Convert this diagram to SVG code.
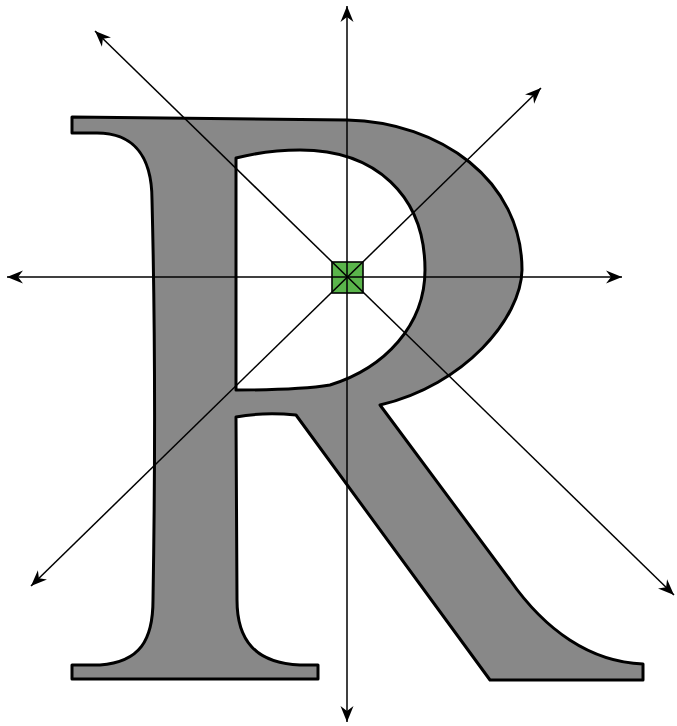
<svg xmlns="http://www.w3.org/2000/svg" width="677" height="726" viewBox="0 0 677 726">
  <style>
    .glyph { fill: #888888; stroke: #000000; stroke-width: 3; stroke-linejoin: round; fill-rule: evenodd; }
    .origin { fill: #5ab54b; stroke: #000000; stroke-width: 1.6; }
    .axis { fill: none; stroke: #000000; stroke-width: 1.5; marker-start: url(#arrow); marker-end: url(#arrow); }
  </style>
  <defs>
    <marker id="arrow" markerUnits="userSpaceOnUse" markerWidth="17" markerHeight="14" refX="16" refY="7" orient="auto-start-reverse" viewBox="0 0 17 14">
      <path d="M0,0.5 L16,7 L0,13.5 L5,7 Z" fill="#000000"/>
    </marker>
  </defs>
  <rect width="677" height="726" fill="#ffffff"/>
  <g id="letter-R">
    <path class="glyph" d="M72,117 L347,120 C440,122 522,180 522,270 C521,318 465,385 380,405 L510,580 C545,630 590,662 643,664 L643,680 L490,680 L296,415 C275,413 252,414 236,417 L237,600 C237,640 255,663 300,665 L318,665 L318,679 L72,679 L72,665 L100,665 C140,662 153,640 153,600 C155,480 155,320 152,200 C152,150 128,133 97,133 L72,133 Z M236,158 C260,152 280,150 300,150 C375,150 425,195 425,270 C425,325 385,368 330,385 C300,390 260,390 236,390 Z"/>
  </g>
  <g id="origin">
    <rect class="origin" x="332" y="262" width="31" height="31"/>
  </g>
  <g id="axes">
    <line class="axis" x1="7" y1="277" x2="622" y2="277"/>
    <line class="axis" x1="347" y1="6" x2="347" y2="722"/>
    <line class="axis" x1="95" y1="31" x2="674" y2="595"/>
    <line class="axis" x1="541" y1="88" x2="31" y2="586"/>
  </g>
</svg>
